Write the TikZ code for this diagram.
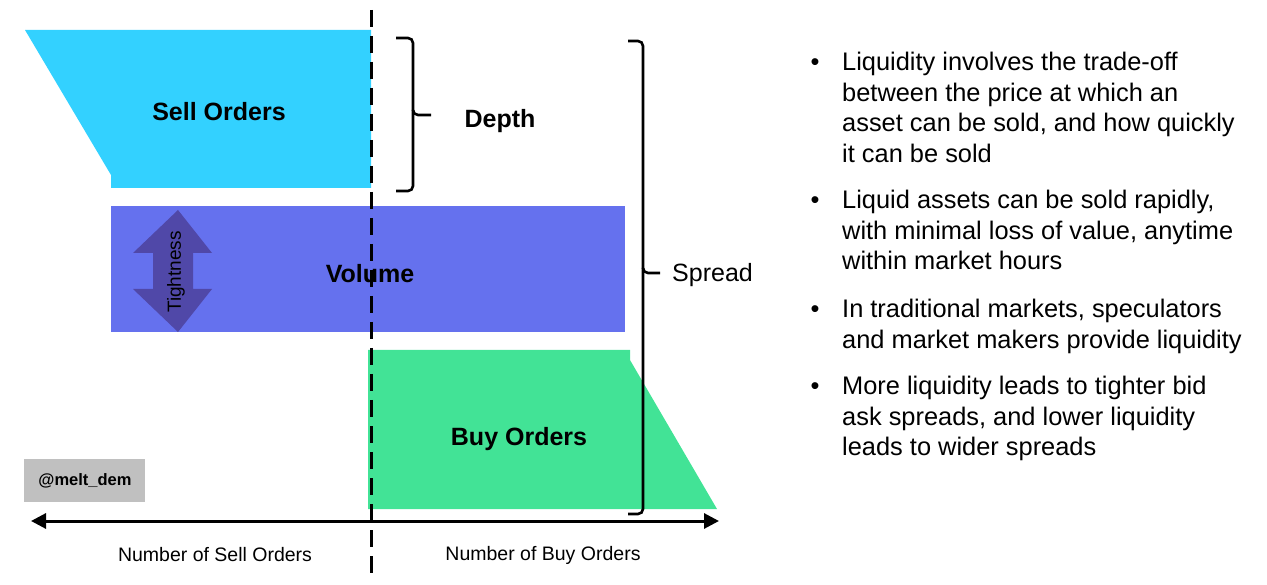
\documentclass[tikz,border=0pt]{standalone}
\usepackage{fontspec}
\setmainfont{Liberation Sans}
\usetikzlibrary{arrows.meta}
\definecolor{sellc}{RGB}{51,209,255}
\definecolor{volc}{RGB}{101,113,238}
\definecolor{tightc}{RGB}{80,72,168}
\definecolor{buyc}{RGB}{66,227,150}
\definecolor{tagc}{RGB}{192,192,192}
\tikzset{
  big/.style={font=\fontsize{25}{30}\selectfont\bfseries},
  reg/.style={font=\fontsize{25}{30}\selectfont},
  axlab/.style={font=\fontsize{19.5}{24}\selectfont},
  bul/.style={font=\fontsize{25.4}{30.6}\selectfont, align=left, inner sep=0pt, anchor=north west},
  bdot/.style={font=\fontsize{25.4}{30.6}\selectfont, inner sep=0pt, anchor=base},
  bracepath/.style={line width=2.6pt, rounded corners=5pt},
  axisline/.style={line width=3pt, {Triangle[length=15pt,width=15pt]}-{Triangle[length=15pt,width=15pt]}},
  midline/.style={line width=3pt, dash pattern=on 17pt off 9pt},
}
\begin{document}
\begin{tikzpicture}[x=1pt,y=-1pt]
\useasboundingbox (0,0) rectangle (1267,585);
% sell orders
\fill[sellc] (25,30) -- (371,30) -- (371,188) -- (111,188) -- (111,175) -- cycle;
\node[big] (sell) at (219,112) {Sell Orders};
% volume
\fill[volc] (111,206) rectangle (625,332);
\node[big] (vol) at (370,274) {Volume};
% tightness arrow
\fill[tightc] (178,210) -- (212,253) -- (193,253) -- (193,289) -- (212,289) -- (178,332) -- (133,289) -- (153,289) -- (153,253) -- (133,253) -- cycle;
\node[font=\fontsize{19}{22}\selectfont, rotate=90] (tight) at (176,272) {Tightness};
% buy orders
\fill[buyc] (368,350) -- (630,350) -- (630,360) -- (717,509) -- (368,509) -- cycle;
\node[big] (buy) at (519,439) {Buy Orders};
% gray tag
\fill[tagc] (24,459) rectangle (145,502);
\node[font=\fontsize{16.5}{20}\selectfont\bfseries] (tag) at (85,481) {@melt\_dem};
% dashed center line
\coordinate (ctop) at (371,10);
\coordinate (cbot) at (371,578);
\draw[midline] (ctop) -- (cbot);
% axis
\coordinate (axl) at (31,521);
\coordinate (axr) at (719,521);
\draw[axisline] (axl) -- (axr);
\node[axlab] (sellax) at (215,555) {Number of Sell Orders};
\node[axlab] (buyax) at (543,555) {Number of Buy Orders};
% depth brace
\draw[bracepath] (396,38) -- (413,38) -- (413,115) -- (431,115);
\draw[bracepath] (413,110) -- (413,191) -- (396,191);
\node[big] (depth) at (500,121) {Depth};
% spread brace
\draw[bracepath] (628,41) -- (643,41) -- (643,273) -- (660,273);
\draw[bracepath] (643,268) -- (643,514) -- (628,514);
\node[reg, anchor=west, inner sep=0pt] (spread) at (672,275) {Spread};
% bullets
\node[bdot] (b1) at (815,71) {•};
\node[bul] (t1) at (842,52) {Liquidity involves the trade-off\\between the price at which an\\asset can be sold, and how quickly\\it can be sold};
\node[bdot] (b2) at (815,209) {•};
\node[bul] (t2) at (842,190) {Liquid assets can be sold rapidly,\\with minimal loss of value, anytime\\within market hours};
\node[bdot] (b3) at (815,318) {•};
\node[bul] (t3) at (842,299) {In traditional markets, speculators\\and market makers provide liquidity};
\node[bdot] (b4) at (815,395) {•};
\node[bul] (t4) at (842,376) {More liquidity leads to tighter bid\\ask spreads, and lower liquidity\\leads to wider spreads};
\end{tikzpicture}
\end{document}
